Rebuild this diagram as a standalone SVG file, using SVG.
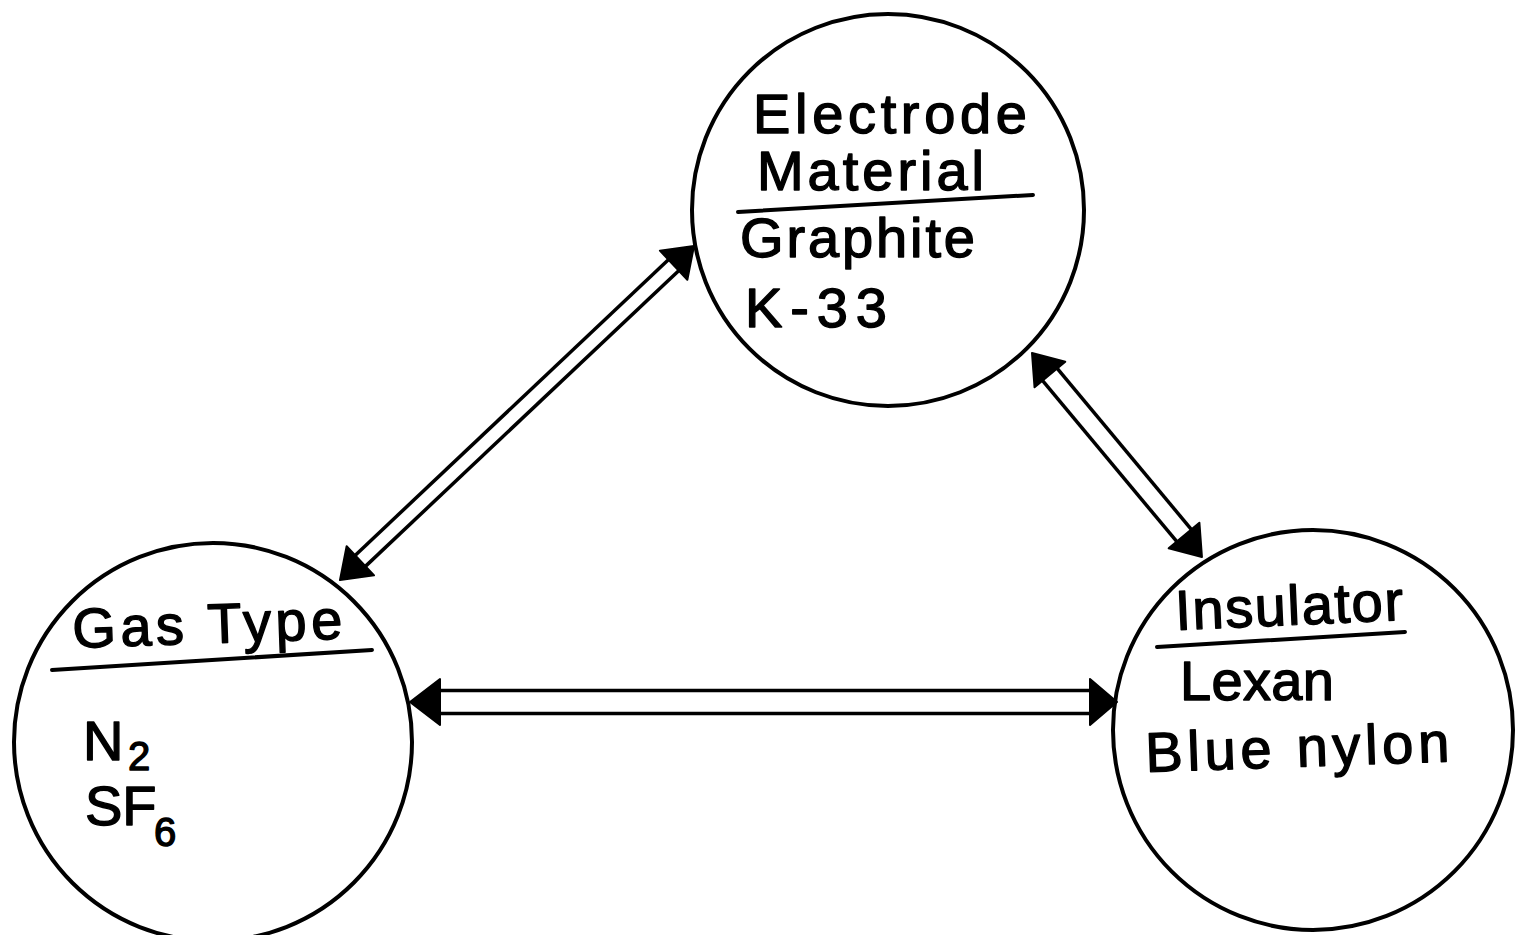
<svg xmlns="http://www.w3.org/2000/svg" width="1527" height="935" viewBox="0 0 1527 935">
<style>
.node{fill:none;stroke:#000;stroke-width:4}
.t{font-family:"Liberation Sans",Arial,sans-serif;font-size:56px;fill:#000;stroke:#000;stroke-width:1.4;stroke-linejoin:round}
.sub{font-size:40px}
.div{stroke:#000;stroke-width:4;stroke-linecap:round}
.shaft{stroke:#000;stroke-width:3.5;fill:none}
.head{fill:#000;stroke:#000;stroke-width:2;stroke-linejoin:round}
</style>
<rect width="1527" height="935" fill="#fff"/>
<g id="connectors">
  <g id="c-gas-electrode" transform="translate(340,580) rotate(-43.34)">
    <polygon class="head" points="0,0 28,-20 28,20"/>
    <polygon class="head" points="486.7,0 458.7,-20 458.7,20"/>
    <line class="shaft" x1="26" y1="-7.5" x2="460" y2="-7.5"/>
    <line class="shaft" x1="26" y1="7.5" x2="460" y2="7.5"/>
  </g>
  <g id="c-electrode-insulator" transform="translate(1032,353) rotate(50.2)">
    <polygon class="head" points="0,0 28,-20 28,20"/>
    <polygon class="head" points="265.5,0 237.5,-20 237.5,20"/>
    <line class="shaft" x1="26" y1="-9.5" x2="240" y2="-9.5"/>
    <line class="shaft" x1="26" y1="9.5" x2="240" y2="9.5"/>
  </g>
  <g id="c-gas-insulator" transform="translate(410,702)">
    <polygon class="head" points="0,0 30,-23 30,23"/>
    <polygon class="head" points="707,0 680,-23 680,23"/>
    <line class="shaft" x1="28" y1="-11.5" x2="682" y2="-11.5"/>
    <line class="shaft" x1="28" y1="11.5" x2="682" y2="11.5"/>
  </g>
</g>
<g id="electrode">
  <circle class="node" cx="888" cy="210" r="196"/>
  <text class="t" x="753" y="133" textLength="274" lengthAdjust="spacing">Electrode</text>
  <text class="t" x="757" y="190" textLength="227" lengthAdjust="spacing">Material</text>
  <line class="div" x1="738" y1="212" x2="1033" y2="195"/>
  <text class="t" x="740" y="257" textLength="235" lengthAdjust="spacing">Graphite</text>
  <text class="t" x="745" y="327" textLength="142" lengthAdjust="spacing">K-33</text>
</g>
<g id="gas">
  <circle class="node" cx="213" cy="742" r="199"/>
  <text class="t" x="73" y="648" textLength="270" lengthAdjust="spacing" transform="rotate(-2 73 648)">Gas Type</text>
  <line class="div" x1="52" y1="670" x2="372" y2="650"/>
  <text class="t" x="83" y="760">N</text>
  <text class="t sub" x="128" y="770">2</text>
  <text class="t" x="85" y="825">SF</text>
  <text class="t sub" x="154" y="846">6</text>
</g>
<g id="insulator">
  <circle class="node" cx="1313" cy="730" r="200"/>
  <text class="t" x="1176" y="630" textLength="228" lengthAdjust="spacing" transform="rotate(-2.5 1176 630)">Insulator</text>
  <line class="div" x1="1157" y1="647" x2="1405" y2="632"/>
  <text class="t" x="1180" y="700" textLength="154" lengthAdjust="spacing">Lexan</text>
  <text class="t" x="1146" y="772" textLength="304" lengthAdjust="spacing" transform="rotate(-2 1146 772)">Blue nylon</text>
</g>
</svg>
